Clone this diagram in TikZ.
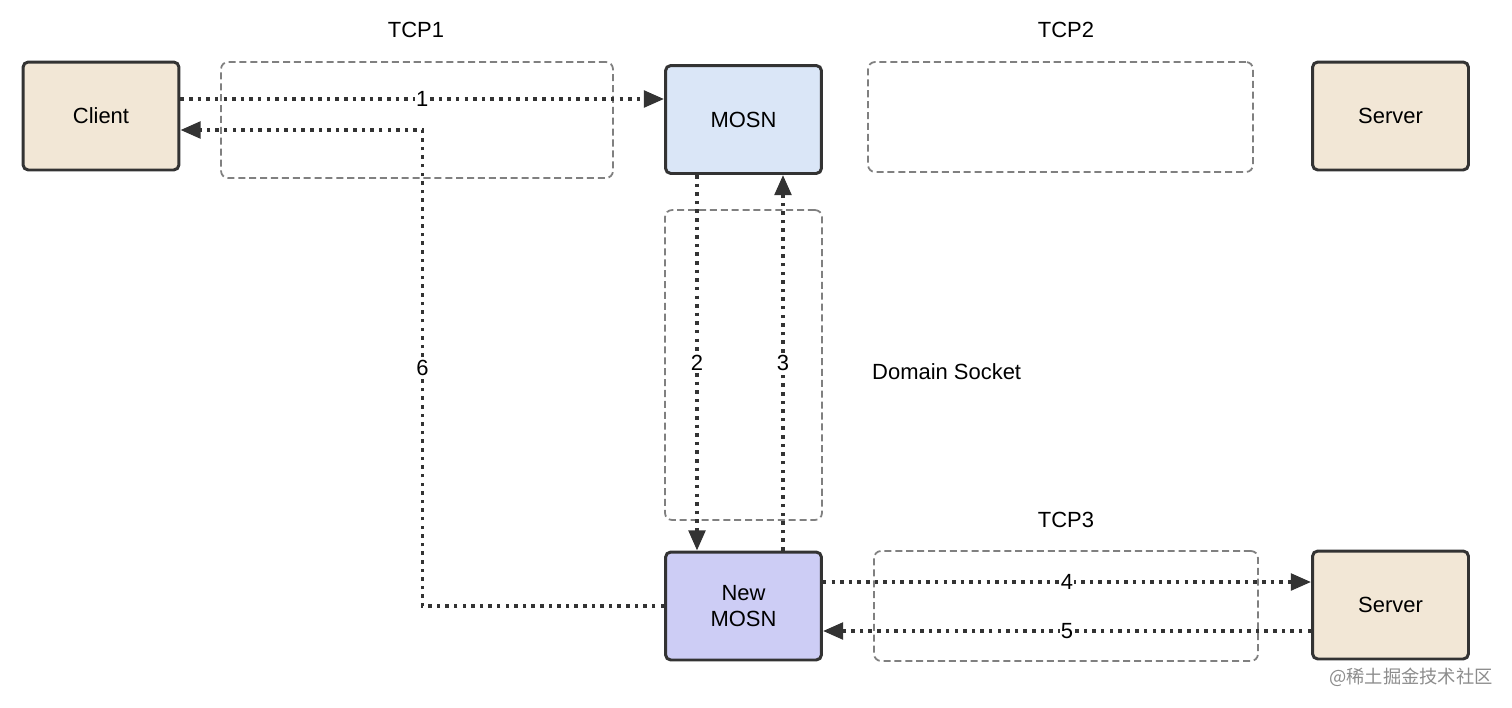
\documentclass[tikz,border=0pt]{standalone}
\usepackage{fontspec}
\setmainfont{Liberation Sans}
\newfontfamily\cjk{Noto Sans CJK SC}
\usetikzlibrary{arrows.meta}
\usetikzlibrary{positioning}
\usetikzlibrary{math}
\definecolor{clientfill}{RGB}{242,231,214}
\definecolor{mosnfill}{RGB}{218,230,247}
\definecolor{newfill}{RGB}{205,205,245}
\definecolor{edge}{RGB}{51,51,51}
\tikzstyle{proc} = [draw=edge, line width=1.7pt, rounded corners=3pt, minimum width=3.12cm, minimum height=2.16cm, align=center, font=\fontsize{12.5}{15}\selectfont]
\tikzstyle{group} = [draw=black!50, line width=1pt, dash pattern=on 4pt off 2.2pt, rounded corners=4pt]
\tikzstyle{flow} = [-{Triangle[length=11.5pt,width=9.5pt]}, draw=edge, line width=2pt, dash pattern=on 2pt off 2.9pt]
\tikzstyle{num} = [fill=white, inner sep=0.6pt, font=\fontsize{12.5}{15}\selectfont]
\tikzstyle{title} = [font=\fontsize{12.5}{15}\selectfont]

\begin{document}
\begin{tikzpicture}[x=0.02cm, y=-0.02cm]

  \useasboundingbox (0,0) rectangle (1512,707);

  % connection groups
  \node[group, minimum width=7.84cm, minimum height=2.32cm] (tcp1) at (417,120) {};
  \node[group, minimum width=7.7cm, minimum height=2.2cm] (tcp2) at (1060.5,117) {};
  \node[group, minimum width=3.14cm, minimum height=6.2cm] (sock) at (743.5,365) {};
  \node[group, minimum width=7.68cm, minimum height=2.2cm] (tcp3) at (1066,606) {};

  \node[title] at (416,30) {TCP1};
  \node[title] at (1066,30) {TCP2};
  \node[title] at (1066,520) {TCP3};
  \node[title, anchor=west] at (866,372) {Domain Socket};

  % processes
  \node[proc, fill=clientfill] (client) at (101,116) {Client};
  \node[proc, fill=mosnfill] (mosn) at (743.5,119.5) {MOSN};
  \node[proc, fill=clientfill] (srv1) at (1390.5,116) {Server};
  \node[proc, fill=newfill] (nmosn) at (743.5,606) {New\\MOSN};
  \node[proc, fill=clientfill] (srv2) at (1390.5,605) {Server};

  % flows
  \draw[flow] ([yshift=0.34cm]client.east) coordinate (a1) -- (a1 -| mosn.west) node[num, midway] {1};
  \draw[flow] ([xshift=-0.93cm]mosn.south) coordinate (a2) -- (a2 |- nmosn.north) node[num, midway] {2};
  \draw[flow] ([xshift=0.79cm]nmosn.north) coordinate (a3) -- (a3 |- mosn.south) node[num, midway] {3};
  \draw[flow] ([yshift=0.48cm]nmosn.east) coordinate (a4) -- (a4 -| srv2.west) node[num, midway] {4};
  \draw[flow] ([yshift=-0.52cm]srv2.west) coordinate (a5) -- (a5 -| nmosn.east) node[num, midway] {5};
  \draw[flow] (nmosn.west) -| ([xshift=4.84cm, yshift=-0.28cm]client.east) node[num, pos=0.75] {6} -- ([yshift=-0.28cm]client.east);

  \node[text=black!45, font=\cjk\fontsize{10.4}{12}\selectfont] (mark) at (1411,677) {@稀土掘金技术社区};

\end{tikzpicture}
\end{document}
